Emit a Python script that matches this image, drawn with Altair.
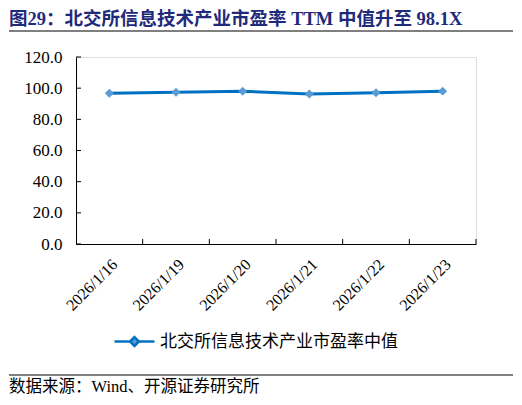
import altair as alt
import pandas as pd

TITLE = "图29：北交所信息技术产业市盈率 TTM 中值升至 98.1X"
SOURCE = "数据来源：Wind、开源证券研究所"
SERIES = "北交所信息技术产业市盈率中值"

dates = ["2026/1/16", "2026/1/19", "2026/1/20", "2026/1/21", "2026/1/22", "2026/1/23"]
pe = [96.8, 97.4, 98.0, 96.2, 97.0, 98.1]
y_ticks = [0, 20, 40, 60, 80, 100, 120]

SERIF = "Liberation Serif, Noto Sans CJK SC"
CJK = "Noto Sans CJK SC"
W, H = 400, 187

df = pd.DataFrame({"date": dates, "pe": pe, "series": SERIES})

x_scale = alt.Scale(type="band", paddingInner=0, paddingOuter=0)
y_scale = alt.Scale(domain=[0, 120], nice=False)

x_axis = alt.Axis(title=None, labelAngle=-45, labelFont=SERIF, labelFontSize=16,
                  labelColor="black", ticks=False, domainColor="black",
                  labelPadding=12, labelAlign="right", labelBaseline="top")
y_axis = alt.Axis(title=None, values=y_ticks, format=".1f", grid=False, ticks=False,
                  labelFont=SERIF, labelFontSize=17, labelColor="black",
                  domainColor="black", labelPadding=14, labelOverlap=False)

x_enc = alt.X("date:N", sort=dates, scale=x_scale, bandPosition=0.5, axis=x_axis)
y_enc = alt.Y("pe:Q", scale=y_scale, axis=y_axis)

# legend symbol: line with a diamond in the middle
sym = "M-1,0L-0.22,0M0.22,0L1,0M0,-0.22L0.22,0L0,0.22L-0.22,0Z"

line = alt.Chart(df).mark_line(strokeWidth=3).encode(
    x=x_enc,
    y=y_enc,
    color=alt.Color("series:N", scale=alt.Scale(range=["#0070C0"]),
                    legend=alt.Legend(title=None, orient="none", legendX=37, legendY=263,
                                      symbolType=sym, symbolSize=1600, symbolStrokeWidth=2.5,
                                      symbolFillColor="#5B9BD5", labelFont=CJK, labelFontSize=17,
                                      labelColor="black", labelOffset=4, labelLimit=400)),
)

points = alt.Chart(df).mark_point(shape="diamond", filled=True, size=80, opacity=1,
                                  color="#5B9BD5").encode(x=x_enc, y=y_enc)

# inward ticks
x_tick = alt.Chart(df).mark_rule(color="black", strokeWidth=1).encode(
    x=alt.X("date:N", sort=dates, scale=x_scale, bandPosition=1, axis=x_axis),
    y=alt.value(H - 5), y2=alt.value(H))
y_tick = alt.Chart(pd.DataFrame({"v": y_ticks})).mark_rule(color="black", strokeWidth=1).encode(
    y=alt.Y("v:Q", scale=y_scale, axis=y_axis), x=alt.value(0), x2=alt.value(5))

top_rule = alt.Chart(pd.DataFrame({"k": [0]})).mark_rule(color="black", strokeWidth=1.2).encode(
    x=alt.value(-67), x2=alt.value(437), y=alt.value(-26))
bottom_rule = alt.Chart(pd.DataFrame({"k": [0]})).mark_rule(color="black", strokeWidth=1.2).encode(
    x=alt.value(-67), x2=alt.value(437), y=alt.value(318))
title = alt.Chart(pd.DataFrame({"t": [TITLE]})).mark_text(
    align="left", baseline="middle", font=SERIF, fontSize=18.5, fontWeight="bold",
    color="#1F2A7A").encode(text="t:N", x=alt.value(-67), y=alt.value(-38))
source = alt.Chart(pd.DataFrame({"t": [SOURCE]})).mark_text(
    align="left", baseline="middle", font=SERIF, fontSize=16.5, color="black").encode(
    text="t:N", x=alt.value(-67), y=alt.value(330))

chart = alt.layer(line, points, x_tick, y_tick, top_rule, bottom_rule, title, source).properties(
    width=W, height=H,
    autosize=alt.AutoSizeParams(type="none"),
    padding={"left": 68, "top": 49, "right": 38, "bottom": 155},
).configure_view(stroke=None).configure(background="white")

chart.save("out.html", embed_options={"renderer": "svg", "actions": False})
